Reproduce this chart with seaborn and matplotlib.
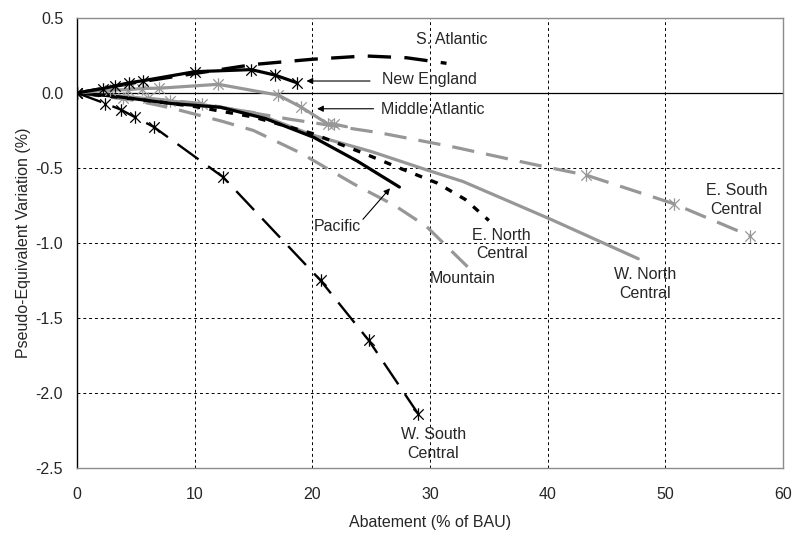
import matplotlib
matplotlib.use("Agg")
import matplotlib.pyplot as plt
from matplotlib.path import Path
import seaborn as sns
import pandas as pd

# Abatement (% of BAU) and pseudo-equivalent variation (%) per census region
new_england_x = [0, 2.2, 3.2, 4.4, 5.6, 10.0, 14.8, 16.8, 18.7]
new_england_y = [0, 0.03, 0.047, 0.068, 0.082, 0.142, 0.156, 0.12, 0.068]

middle_atlantic_x = [0, 2.8, 4.3, 5.5, 7.0, 12.0, 17.1, 19.0, 21.3, 21.8, 22.9]
middle_atlantic_y = [0, 0.02, 0.022, 0.03, 0.032, 0.058, -0.014, -0.092, -0.205, -0.207, -0.225]

south_atlantic_x = [0, 5, 10, 15, 20, 24.5, 28, 31.4]
south_atlantic_y = [0, 0.07, 0.13, 0.19, 0.225, 0.247, 0.235, 0.198]

w_south_central_x = [0, 2.4, 3.7, 4.9, 6.5, 12.4, 20.7, 24.8, 29.0]
w_south_central_y = [0, -0.07, -0.11, -0.16, -0.225, -0.56, -1.25, -1.65, -2.14]

pacific_x = [0, 3, 5, 8, 12.2, 16, 20.1, 23.8, 27.4]
pacific_y = [0, -0.02, -0.04, -0.07, -0.095, -0.17, -0.295, -0.453, -0.627]

e_north_central_x = [0, 5, 10, 15, 20, 24.3, 27.4, 30.6, 33, 35.0]
e_north_central_y = [0, -0.04, -0.09, -0.16, -0.27, -0.40, -0.50, -0.60, -0.71, -0.85]

w_north_central_x = [0, 5, 10, 15, 20, 25, 30, 32.8, 40.2, 47.7]
w_north_central_y = [0, -0.03, -0.07, -0.13, -0.28, -0.39, -0.52, -0.59, -0.84, -1.105]

e_south_central_x = [0, 3.9, 6.0, 7.9, 10.6, 14, 18.1, 25.7, 32, 38.8, 43.25, 50.7, 57.2]
e_south_central_y = [0, -0.03, -0.035, -0.05, -0.07, -0.12, -0.175, -0.265, -0.36, -0.476, -0.547, -0.738, -0.953]

mountain_x = [0, 5, 8, 12.4, 15, 19, 23.6, 27, 29.7, 33.6]
mountain_y = [0, -0.05, -0.1, -0.19, -0.25, -0.40, -0.61, -0.75, -0.89, -1.19]

BLACK = "black"
GREY = "#979797"

# "X" with a vertical bar through it
STAR = Path(
    [(-1, -1), (1, 1), (-1, 1), (1, -1), (0, -1.2), (0, 1.2)],
    [Path.MOVETO, Path.LINETO, Path.MOVETO, Path.LINETO, Path.MOVETO, Path.LINETO],
)

frames = []
series = [
    ("South Atlantic", south_atlantic_x, south_atlantic_y),
    ("Mountain", mountain_x, mountain_y),
    ("E. South Central", e_south_central_x, e_south_central_y),
    ("W. North Central", w_north_central_x, w_north_central_y),
    ("E. North Central", e_north_central_x, e_north_central_y),
    ("Pacific", pacific_x, pacific_y),
    ("Middle Atlantic", middle_atlantic_x, middle_atlantic_y),
    ("New England", new_england_x, new_england_y),
    ("W. South Central", w_south_central_x, w_south_central_y),
]
for name, xs, ys in series:
    frames.append(pd.DataFrame({"region": name, "abatement": xs, "pev": ys}))
data = pd.concat(frames, ignore_index=True)

styles = {
    "South Atlantic": dict(color=BLACK, lw=2.4, ls=(0, (7, 4))),
    "Mountain": dict(color=GREY, lw=2.3, ls=(0, (7, 3.8))),
    "E. South Central": dict(color=GREY, lw=2.3, ls=(0, (7, 3.8)),
                             marker=STAR, markevery=[0, 1, 2, 3, 4, 10, 11, 12]),
    "W. North Central": dict(color=GREY, lw=2.3, ls="-"),
    "E. North Central": dict(color=BLACK, lw=2.4, ls=(0, (2.2, 2.8))),
    "Pacific": dict(color=BLACK, lw=2.3, ls="-"),
    "Middle Atlantic": dict(color=GREY, lw=2.3, ls="-",
                            marker=STAR, markevery=list(range(10))),
    "New England": dict(color=BLACK, lw=2.3, ls="-", marker=STAR),
    "W. South Central": dict(color=BLACK, lw=1.7, ls=(0, (11, 5)), marker=STAR),
}

sns.set_style("white")
plt.rcParams["font.family"] = ["Liberation Sans", "DejaVu Sans"]
plt.rcParams["axes.unicode_minus"] = False

fig = plt.figure(figsize=(7.95, 5.36), dpi=100)
ax = fig.add_axes([0.0969, 0.1269, 0.888, 0.8395])

for name, _, _ in series:
    st = styles[name]
    sub = data[data["region"] == name]
    kw = dict(color=st["color"], linewidth=st["lw"], linestyle=st["ls"])
    if "marker" in st:
        kw.update(marker=st["marker"], markersize=9, markeredgewidth=0.9,
                  markeredgecolor=st["color"], markerfacecolor="none")
        if "markevery" in st:
            kw["markevery"] = st["markevery"]
    sns.lineplot(data=sub, x="abatement", y="pev", ax=ax, sort=False,
                 legend=False, **kw)

ax.set_xlim(0, 60)
ax.set_ylim(-2.5, 0.5)
ax.set_xticks(range(0, 61, 10))
ax.set_yticks([0.5, 0.0, -0.5, -1.0, -1.5, -2.0, -2.5])
ax.set_yticklabels([f"{v:.1f}" for v in [0.5, 0.0, -0.5, -1.0, -1.5, -2.0, -2.5]])

# dashed reference grid, solid zero axis
for xv in range(10, 60, 10):
    ax.axvline(xv, color="black", lw=0.7, ls=(0, (3, 3)), zorder=0)
for yv in [-0.5, -1.0, -1.5, -2.0]:
    ax.axhline(yv, color="black", lw=0.7, ls=(0, (3, 3)), zorder=0)
ax.axhline(0, color="black", lw=0.9, zorder=0.5)

for side in ["top", "right", "bottom"]:
    ax.spines[side].set_color("#8c8c8c")
    ax.spines[side].set_linewidth(1.0)
ax.spines["left"].set_color("black")
ax.spines["left"].set_linewidth(1.0)

ax.tick_params(axis="both", length=0, labelsize=11.5)
ax.tick_params(axis="x", pad=14)
ax.tick_params(axis="y", pad=10)

ax.set_xlabel("Abatement (% of BAU)", fontsize=11.5, labelpad=9)
ax.set_ylabel("Pseudo-Equivalent Variation (%)", fontsize=11.5, labelpad=3)

fs = 11.5
arrow = dict(arrowstyle="-|>", color="black", lw=0.8, mutation_scale=9,
             shrinkA=0, shrinkB=0)
ax.text(28.8, 0.358, "S. Atlantic", fontsize=fs, ha="left", va="center")
ax.annotate("", xy=(19.5, 0.08), xytext=(24.9, 0.08), arrowprops=arrow)
ax.text(25.9, 0.09, "New England", fontsize=fs, ha="left", va="center")
ax.annotate("", xy=(20.4, -0.105), xytext=(25.2, -0.105), arrowprops=arrow)
ax.text(25.8, -0.109, "Middle Atlantic", fontsize=fs, ha="left", va="center")
ax.annotate("", xy=(26.6, -0.635), xytext=(24.3, -0.842), arrowprops=arrow)
ax.text(20.1, -0.887, "Pacific", fontsize=fs, ha="left", va="center")
ax.text(36.1, -1.01, "E. North\nCentral", fontsize=fs, ha="center", va="center",
        linespacing=1.3)
ax.text(32.8, -1.24, "Mountain", fontsize=fs, ha="center", va="center")
ax.text(48.3, -1.273, "W. North\nCentral", fontsize=fs, ha="center", va="center",
        linespacing=1.3)
ax.text(56.05, -0.713, "E. South\nCentral", fontsize=fs, ha="center", va="center",
        linespacing=1.3)
ax.text(30.3, -2.342, "W. South\nCentral", fontsize=fs, ha="center", va="center",
        linespacing=1.3)

fig.savefig("out.png", dpi=100)
